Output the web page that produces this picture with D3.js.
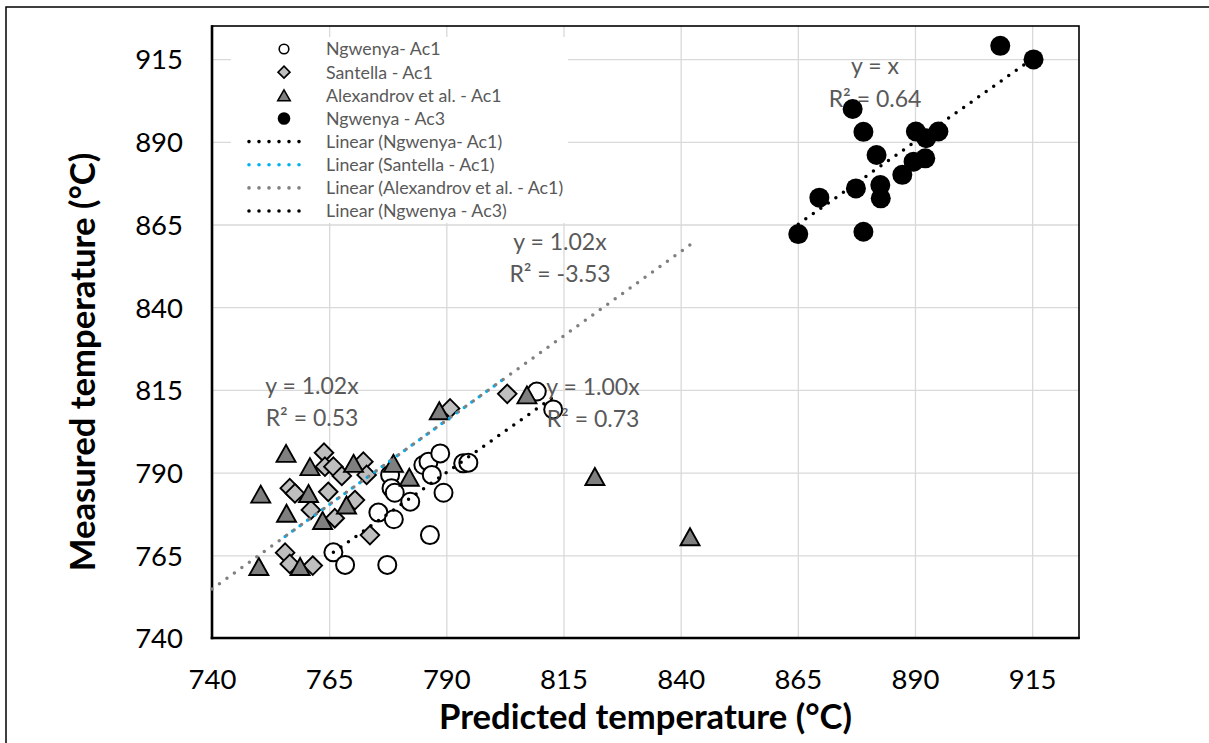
<!DOCTYPE html>
<html><head><meta charset="utf-8">
<script src="https://cdn.jsdelivr.net/npm/d3@7"></script>
<style>
body{margin:0;background:#fff}
svg{display:block}
text{font-family:Lato,"Open Sans",sans-serif}
</style>
</head><body>
<svg id="chart" width="1209" height="743"></svg>
<script>
// ---------- data ----------
const xTicks = [740, 765, 790, 815, 840, 865, 890, 915];
const yTicks = [740, 765, 790, 815, 840, 865, 890, 915];
const axisMin = 740, axisMax = 925;

const ngwenyaAc1 = [[765.9,765.9],[768.4,762.1],[775.5,777.9],[777.4,762.1],[778,789.3],[778.3,785.3],[778.8,775.9],[779,783.9],[782.3,781.2],[785.1,792.3],[786.2,793.3],[786.5,771.1],[786.9,789.3],[788.7,795.8],[789.4,783.9],[793.6,792.8],[794.7,793.0],[809.3,814.5],[812.8,809.1]];
const santellaAc1 = [[755.6,765.8],[756.6,762.4],[756.6,785.3],[757.7,783.7],[761.1,778.7],[761.5,761.9],[763.9,796],[764.1,791.8],[764.8,784.2],[765.9,791.8],[766.2,776.2],[767.7,789],[770.5,781.7],[772.3,793.3],[773,789.3],[773.7,771.1],[790.8,809.4],[803,813.8]];
const alexandrovAc1 = [[750,761.6],[750.4,783.5],[755.8,795.8],[755.9,777.7],[758.8,761.6],[760.6,783.7],[760.9,791.8],[763.6,775.5],[768.7,780.2],[770.2,792.8],[778.7,792.8],[782.1,788.6],[788.5,808.7],[807.2,813.5],[821.7,788.8],[842,770.6]];
const ngwenyaAc3 = [[865.1,862.1],[869.6,873.1],[876.7,899.9],[877.4,875.9],[879,893],[879,862.8],[881.8,886],[882.6,876.9],[882.7,872.9],[887.3,880],[889.7,884],[890.2,893.1],[892.2,885],[892.4,891.1],[895,893.1],[908.2,919],[915.3,914.9]];

const seriesNames = ["Ngwenya- Ac1", "Santella - Ac1", "Alexandrov et al. - Ac1", "Ngwenya - Ac3"];
const trendSlopes = [1.00, 1.02, 1.02, 1.00];
const trendBackward = [0, 0, 10, 0];
const trendEquations = ["y = 1.00x", "y = 1.02x", "y = 1.02x", "y = x"];
const trendR2 = ["R² = 0.73", "R² = 0.53", "R² = -3.53", "R² = 0.64"];
const xTitle = "Predicted temperature (°C)";
const yTitle = "Measured temperature (°C)";

// ---------- layout ----------
const svg = d3.select("#chart");
const L = 212, R = 1079, T = 26, B = 638;
const x = d3.scaleLinear([axisMin, axisMax], [L, R]);
const y = d3.scaleLinear([axisMin, axisMax], [B, T]);

// outer border
svg.append("rect").attr("x", 6).attr("y", 7).attr("width", 1300).attr("height", 900)
  .attr("fill", "none").attr("stroke", "#000").attr("stroke-width", 1.5);

// gridlines
const grid = svg.append("g");
grid.append("g").attr("transform", `translate(0,${B})`)
  .call(d3.axisBottom(x).tickValues(xTicks).tickSize(-(B - T)).tickFormat(""))
  .call(g => g.select(".domain").remove())
  .call(g => g.selectAll("line").attr("stroke", "#d9d9d9").attr("stroke-width", 1.3));
grid.append("g").attr("transform", `translate(${L},0)`)
  .call(d3.axisLeft(y).tickValues(yTicks).tickSize(-(R - L)).tickFormat(""))
  .call(g => g.select(".domain").remove())
  .call(g => g.selectAll("line").attr("stroke", "#d9d9d9").attr("stroke-width", 1.3));

// plot border
svg.append("rect").attr("x", L).attr("y", T).attr("width", R - L).attr("height", B - T)
  .attr("fill", "none").attr("stroke", "#000").attr("stroke-width", 1.6);

// tick labels
svg.append("g").attr("transform", `translate(0,${B})`)
  .call(d3.axisBottom(x).tickValues(xTicks).tickSize(0).tickFormat(d3.format("d")))
  .call(g => g.select(".domain").remove())
  .call(g => g.selectAll("text").attr("dy", null).attr("y", 51)
      .attr("font-size", 27.5).attr("fill", "#000").attr("font-family", "Lato"));
svg.append("g").attr("transform", `translate(${L},0)`)
  .call(d3.axisLeft(y).tickValues(yTicks).tickSize(0).tickPadding(29).tickFormat(d3.format("d")))
  .call(g => g.select(".domain").remove())
  .call(g => g.selectAll("text").attr("dy", "0.36em")
      .attr("font-size", 27.5).attr("fill", "#000").attr("font-family", "Lato"));

// axis lines (left & bottom thicker)
svg.append("line").attr("x1", L).attr("x2", L).attr("y1", T - 0.8).attr("y2", B + 1.3)
  .attr("stroke", "#000").attr("stroke-width", 2.6);
svg.append("line").attr("x1", L - 1.3).attr("x2", R + 0.8).attr("y1", B).attr("y2", B)
  .attr("stroke", "#000").attr("stroke-width", 2.6);

// axis titles
const xt = svg.append("text").attr("x", (L + R) / 2).attr("y", 729)
  .attr("text-anchor", "middle").attr("font-weight", "bold").attr("font-size", 30).text(xTitle);
const fs = 30 * 413 / xt.node().getComputedTextLength();
xt.attr("font-size", fs);
svg.append("text").attr("transform", `translate(95,${(T + B) / 2 + 30}) rotate(-90)`)
  .attr("text-anchor", "middle").attr("font-weight", "bold").attr("font-size", fs).text(yTitle);

// marker shapes
function circlePath(r) { return `M${r},0A${r},${r} 0 1,1 ${-r},0A${r},${r} 0 1,1 ${r},0Z`; }
function diamondPath(h) { return `M0,${-h}L${h},0L0,${h}L${-h},0Z`; }
function trianglePath(w, hgt) { return `M0,${-hgt/2}L${w},${hgt/2}L${-w},${hgt/2}Z`; }

const styles = [
  {path: circlePath(9), fill: "#fff", stroke: "#000", sw: 2,
   lpath: circlePath(4.8), lsw: 1.6},
  {path: diamondPath(9.3), fill: "#bfbfbf", stroke: "#000", sw: 1.9,
   lpath: diamondPath(6), lsw: 1.6},
  {path: trianglePath(9.5, 17), fill: "#7f7f7f", stroke: "#000", sw: 1.9,
   lpath: trianglePath(6.3, 11), lsw: 1.5},
  {path: circlePath(10), fill: "#000", stroke: "#000", sw: 0,
   lpath: circlePath(6.3), lsw: 0}
];
const trendColors = ["#000", "#00b0f0", "#808080", "#000"];
const allSeries = [ngwenyaAc1, santellaAc1, alexandrovAc1, ngwenyaAc3];

// points
allSeries.forEach((data, i) => {
  const s = styles[i];
  svg.append("g").selectAll("path").data(data).join("path")
    .attr("transform", d => `translate(${x(d[0])},${y(d[1])})`)
    .attr("d", s.path).attr("fill", s.fill).attr("stroke", s.stroke).attr("stroke-width", s.sw);
});

// trendlines (through origin, slope from the chart labels)
const line = d3.line().x(d => x(d[0])).y(d => y(d[1]));
allSeries.forEach((data, i) => {
  const x0 = d3.min(data, d => d[0]) - trendBackward[i];
  const x1 = d3.max(data, d => d[0]);
  svg.append("path").datum([[x0, trendSlopes[i] * x0], [x1, trendSlopes[i] * x1]])
    .attr("d", line).attr("fill", "none").attr("stroke", trendColors[i])
    .attr("stroke-width", 3.5).attr("stroke-linecap", "round").attr("stroke-dasharray", "0,9.2");
});

// trendline labels
const labelPos = [[593, 395, 427], [312, 394, 426], [560, 250, 282], [875, 74, 107]];
trendEquations.forEach((eq, i) => {
  const p = labelPos[i];
  svg.append("text").attr("x", p[0]).attr("y", p[1]).attr("text-anchor", "middle")
    .attr("font-size", 23).attr("fill", "#595959").text(eq);
  svg.append("text").attr("x", p[0]).attr("y", p[2]).attr("text-anchor", "middle")
    .attr("font-size", 23).attr("fill", "#595959").text(trendR2[i]);
});

// legend
const leg = svg.append("g");
leg.append("rect").attr("x", 231).attr("y", 37).attr("width", 337).attr("height", 186).attr("fill", "#fff");
const rowY = i => 49 + i * 23.15;
seriesNames.forEach((n, i) => {
  const s = styles[i];
  leg.append("path").attr("transform", `translate(284,${rowY(i)})`).attr("d", s.lpath)
    .attr("fill", s.fill).attr("stroke", s.stroke).attr("stroke-width", s.lsw);
  leg.append("text").attr("x", 326).attr("y", rowY(i)).attr("dy", "0.36em")
    .attr("font-size", 17.8).attr("fill", "#595959").text(n);
});
seriesNames.forEach((n, i) => {
  const yy = rowY(i + 4);
  leg.append("line").attr("x1", 249).attr("x2", 309).attr("y1", yy).attr("y2", yy)
    .attr("stroke", trendColors[i]).attr("stroke-width", 3.6).attr("stroke-linecap", "round")
    .attr("stroke-dasharray", "0,10");
  leg.append("text").attr("x", 326).attr("y", yy).attr("dy", "0.36em")
    .attr("font-size", 17.8).attr("fill", "#595959").text(`Linear (${n})`);
});
</script>
</body></html>
